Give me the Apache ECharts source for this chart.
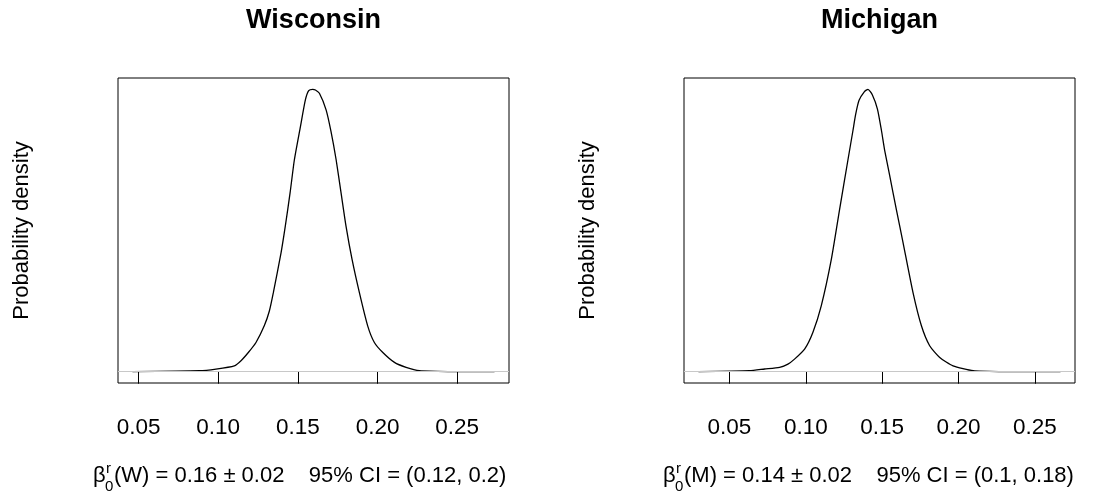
<!DOCTYPE html>
<html><head><meta charset="utf-8">
<script src="https://cdn.jsdelivr.net/npm/echarts@6/dist/echarts.min.js"></script>
<style>html,body{margin:0;padding:0;background:#fff}#c{width:1106px;height:495px}</style>
</head><body><div id="c"></div>
<script>
// ---- data ----
const panelTitles = ['Wisconsin', 'Michigan'];
const yAxisLabel = 'Probability density';
const tickValues = [0.05, 0.10, 0.15, 0.20, 0.25];

const wiX = [0.0462,0.0881,0.0986,0.1101,0.1143,0.1189,0.1237,0.1289,0.1321,0.1346,0.1394,0.1421,0.1451,0.1478,0.1516,0.1547,0.1568,0.1593,0.1610,0.1635,0.1677,0.1708,0.1740,0.1771,0.1802,0.1840,0.1886,0.1938,0.1980,0.2033,0.2106,0.2179,0.2263,0.2451,0.2734];
const wiY = [0,0.07,0.19,0.42,0.78,1.36,2.07,3.25,4.3,5.6,8.4,10.31,12.66,15.01,17.36,19.25,19.91,20.0,19.95,19.72,18.54,17.0,15.01,12.66,10.31,7.95,5.6,3.25,2.07,1.36,0.66,0.31,0.07,0.01,0];

const miX = [0.0297,0.0631,0.0730,0.0828,0.0883,0.0926,0.0992,0.1046,0.1101,0.1167,0.1221,0.1276,0.1309,0.1326,0.1348,0.1385,0.1407,0.1436,0.1469,0.1495,0.1516,0.1549,0.1593,0.1637,0.1702,0.1757,0.1811,0.1877,0.1964,0.2096,0.2270,0.2668];
const miY = [0,0.07,0.19,0.31,0.54,0.89,1.6,2.78,4.66,7.95,11.48,15.01,17.1,18.2,19.2,19.85,20.0,19.6,18.6,17.1,15.7,13.9,11.48,9.13,5.6,3.25,1.84,1.01,0.42,0.07,0.01,0];

const stateCodes = ['W', 'M'];
const estimates = ['0.16', '0.14'];
const stdErrs = ['0.02', '0.02'];
const ciTexts = ['(0.12, 0.2)', '(0.1, 0.18)'];

// ---- chart ----
const FONT = "'Liberation Sans', Arial, Helvetica, sans-serif";
const panels = [{x: wiX, y: wiY}, {x: miX, y: miY}];
const gridLefts = [118, 684];
const gridW = 391, gridTop = 78, gridH = 305;

function ext(arr) {
  const lo = Math.min(...arr), hi = Math.max(...arr);
  const d = (hi - lo) * 0.04;
  return [lo - d, hi + d];
}

const grids = [], xAxes = [], yAxes = [], series = [], graphics = [];
panels.forEach((p, i) => {
  grids.push({left: gridLefts[i], top: gridTop, width: gridW, height: gridH,
    show: true, borderColor: '#000', borderWidth: 1, backgroundColor: 'transparent'});
  const xr = ext(p.x);
  const ymax = Math.max(...p.y);
  xAxes.push({type: 'value', gridIndex: i, min: xr[0], max: xr[1],
    axisLine: {show: false}, splitLine: {show: false},
    axisTick: {show: true, length: 12, inside: false, customValues: tickValues,
      lineStyle: {color: '#000', width: 1}},
    axisLabel: {show: true, customValues: tickValues, margin: 33,
      formatter: v => v.toFixed(2), fontSize: 22.5, color: '#000', fontFamily: FONT}});
  yAxes.push({type: 'value', gridIndex: i, min: -0.04 * ymax, max: 1.04 * ymax,
    axisLine: {show: false}, axisTick: {show: false}, axisLabel: {show: false},
    splitLine: {show: false}});
  series.push({type: 'line', xAxisIndex: i, yAxisIndex: i,
    data: p.x.map((v, k) => [v, p.y[k]]),
    showSymbol: false, smooth: 0.2, z: 2,
    lineStyle: {color: '#000', width: 1.3},
    markLine: {silent: true, symbol: 'none', label: {show: false},
      lineStyle: {color: '#c8c8c8', width: 1, type: 'solid'},
      data: [{yAxis: 0}], z: 3}});

  const cx = gridLefts[i] + gridW / 2;
  graphics.push({type: 'text', x: cx, y: 21, style: {text: panelTitles[i],
    font: 'bold 27px ' + FONT, fill: '#000', textAlign: 'center', textVerticalAlign: 'middle'}});
  graphics.push({type: 'text', x: gridLefts[i] - 96, y: gridTop + gridH / 2, rotation: Math.PI / 2,
    style: {text: yAxisLabel, font: '22px ' + FONT, fill: '#000', textAlign: 'center', textVerticalAlign: 'middle'}});

  const x0 = [93, 663][i];
  graphics.push({type: 'text', x: x0, y: 476, style: {text: 'β',
    font: '22px ' + FONT, fill: '#000', textAlign: 'left', textVerticalAlign: 'middle'}});
  graphics.push({type: 'text', x: x0 + 13, y: 469, style: {text: 'r',
    font: '15px ' + FONT, fill: '#000', textAlign: 'left', textVerticalAlign: 'middle'}});
  graphics.push({type: 'text', x: x0 + 12, y: 487, style: {text: '0',
    font: '15px ' + FONT, fill: '#000', textAlign: 'left', textVerticalAlign: 'middle'}});
  graphics.push({type: 'text', x: x0 + 21, y: 476, style: {
    text: '(' + stateCodes[i] + ') = ' + estimates[i] + ' \u00b1 ' + stdErrs[i] + '    95% CI = ' + ciTexts[i],
    font: '22px ' + FONT, fill: '#000', textAlign: 'left', textVerticalAlign: 'middle'}});
});

const chart = echarts.init(document.getElementById('c'), null, {renderer: 'canvas'});
chart.setOption({
  animation: false,
  backgroundColor: '#fff',
  grid: grids, xAxis: xAxes, yAxis: yAxes, series: series,
  graphic: graphics
});
</script></body></html>
